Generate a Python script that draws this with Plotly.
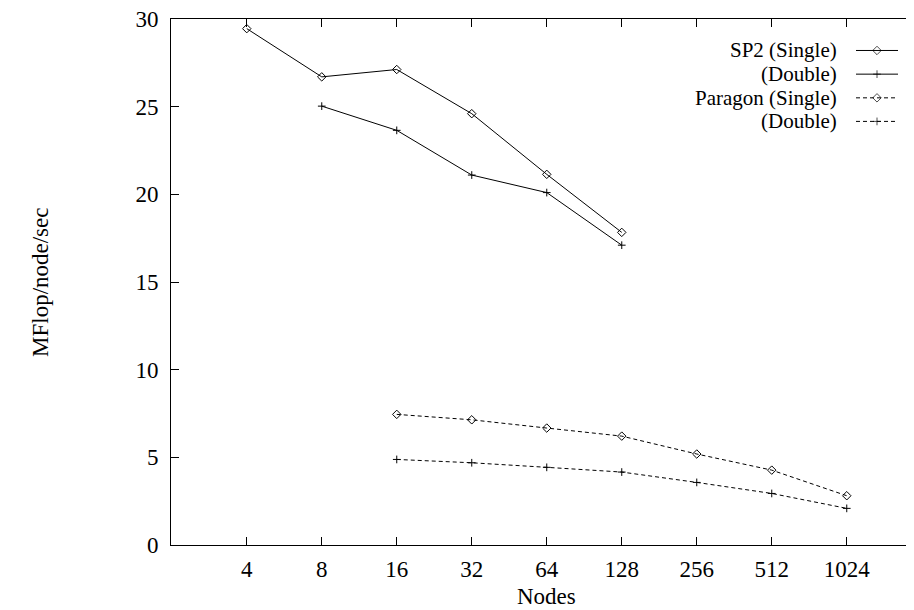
import math
import plotly.graph_objects as go

# ---- data ----
nodes_sp2_single = [4, 8, 16, 32, 64, 128]
sp2_single = [29.45, 26.7, 27.12, 24.6, 21.14, 17.83]
nodes_sp2_double = [8, 16, 32, 64, 128]
sp2_double = [25.03, 23.65, 21.1, 20.1, 17.1]
nodes_paragon = [16, 32, 64, 128, 256, 512, 1024]
paragon_single = [7.45, 7.14, 6.67, 6.21, 5.19, 4.27, 2.81]
paragon_double = [4.88, 4.69, 4.43, 4.16, 3.57, 2.94, 2.09]

x_tick_vals = [4, 8, 16, 32, 64, 128, 256, 512, 1024]
x_tick_text = ["4", "8", "16", "32", "64", "128", "256", "512", "1024"]
y_tick_vals = [0, 5, 10, 15, 20, 25, 30]
y_tick_text = ["0", "5", "10", "15", "20", "25", "30"]

legend_labels = ["SP2 (Single)", "(Double)", "Paragon (Single)", "(Double)"]

FONT = "Liberation Serif, Times New Roman, serif"
FS = 23
FS_LEG = 21

# page has an 8px body margin; size the figure so it ends at the window edge
OFF = 8
W, H = 914 - OFF, 610 - OFF
PLOT_LEFT, PLOT_BOTTOM, PLOT_TOP = 171, 545, 18.5   # in window pixels
L = PLOT_LEFT - OFF
T = PLOT_TOP - OFF
B = (OFF + H) - PLOT_BOTTOM
R = 0
PW = W - L - R
PH = H - T - B

fig = go.Figure()

series = [
    (nodes_sp2_single, sp2_single, "diamond-open", 6.5, "solid"),
    (nodes_sp2_double, sp2_double, "cross-thin-open", 5.5, "solid"),
    (nodes_paragon, paragon_single, "diamond-open", 6.5, "4px,3px"),
    (nodes_paragon, paragon_double, "cross-thin-open", 5.5, "4px,3px"),
]

for (xs, ys, sym, sz, dash), name in zip(series, legend_labels):
    fig.add_trace(go.Scatter(
        x=xs, y=ys, mode="lines+markers", name=name, showlegend=False,
        line=dict(color="black", width=1, dash=dash),
        marker=dict(symbol=sym, size=sz, color="black", line=dict(color="black", width=1)),
    ))

# dummy trace so right-side tick axis is drawn
fig.add_trace(go.Scatter(x=[], y=[], xaxis="x", yaxis="y2", showlegend=False))

# legend samples (gnuplot style: text left, sample right)
row_px = [50, 73.7, 97.4, 121]
x0p, x1p, txt_right = 856, 898, 839
for i, ((xs, ys, sym, sz, dash), name) in enumerate(zip(series, legend_labels)):
    yy = (PLOT_BOTTOM - row_px[i]) / PH
    xa = (x0p - PLOT_LEFT) / PW
    xb = (x1p - PLOT_LEFT) / PW
    fig.add_trace(go.Scatter(
        x=[xa, (xa + xb) / 2, xb], y=[yy, yy, yy], xaxis="x3", yaxis="y3",
        mode="lines+markers", showlegend=False, hoverinfo="skip",
        line=dict(color="black", width=1, dash=dash),
        marker=dict(symbol=sym, size=[0, sz, 0], color="black",
                    line=dict(color="black", width=1)),
    ))
    fig.add_annotation(
        text=name, xref="paper", yref="paper", x=(txt_right - PLOT_LEFT) / PW, y=yy,
        xanchor="right", yanchor="middle", showarrow=False,
        font=dict(family=FONT, size=FS_LEG, color="black"),
    )

xmin = 0.99
xmax = xmin + PW / 75.0

fig.update_layout(
    width=W, height=H,
    margin=dict(l=L, r=R, t=T, b=B, pad=0),
    paper_bgcolor="white", plot_bgcolor="white",
    font=dict(family=FONT, size=FS, color="black"),
    showlegend=False,
    xaxis=dict(
        type="log", range=[xmin * math.log10(2), xmax * math.log10(2)],
        tickvals=x_tick_vals, ticktext=x_tick_text,
        ticks="inside", ticklen=8, tickwidth=1, tickcolor="black",
        showline=True, linecolor="black", linewidth=1, mirror="ticks",
        showgrid=False, zeroline=False, ticklabelstandoff=3,
        ticklabeloverflow="allow",
        tickfont=dict(family=FONT, size=FS, color="black"),
    ),
    yaxis=dict(
        range=[0, 30], tickvals=y_tick_vals, ticktext=y_tick_text,
        ticks="inside", ticklen=8, tickwidth=1, tickcolor="black",
        showline=True, linecolor="black", linewidth=1, mirror=False,
        showgrid=False, zeroline=False, ticklabelstandoff=7,
        ticklabeloverflow="allow",
        tickfont=dict(family=FONT, size=FS, color="black"),
    ),
    yaxis2=dict(
        range=[0, 30], tickvals=y_tick_vals, overlaying="y", side="right",
        ticks="inside", ticklen=8, tickwidth=1, tickcolor="black",
        showticklabels=False, showline=False, showgrid=False, zeroline=False,
    ),
    xaxis3=dict(range=[0, 1], overlaying="x", visible=False, showgrid=False, zeroline=False),
    yaxis3=dict(range=[0, 1], overlaying="y", visible=False, showgrid=False, zeroline=False),
)

# axis titles
fig.add_annotation(
    text="Nodes", xref="paper", yref="paper", x=(546.5 - PLOT_LEFT) / PW, y=0,
    xanchor="center", yanchor="middle", yshift=-51, showarrow=False,
    font=dict(family=FONT, size=FS, color="black"),
)
fig.add_annotation(
    text="MFlop/node/sec", xref="paper", yref="paper", x=0, y=0.5,
    xanchor="center", yanchor="middle", xshift=40 - PLOT_LEFT, textangle=-90, showarrow=False,
    font=dict(family=FONT, size=FS, color="black"),
)

fig.write_html("out.html")
